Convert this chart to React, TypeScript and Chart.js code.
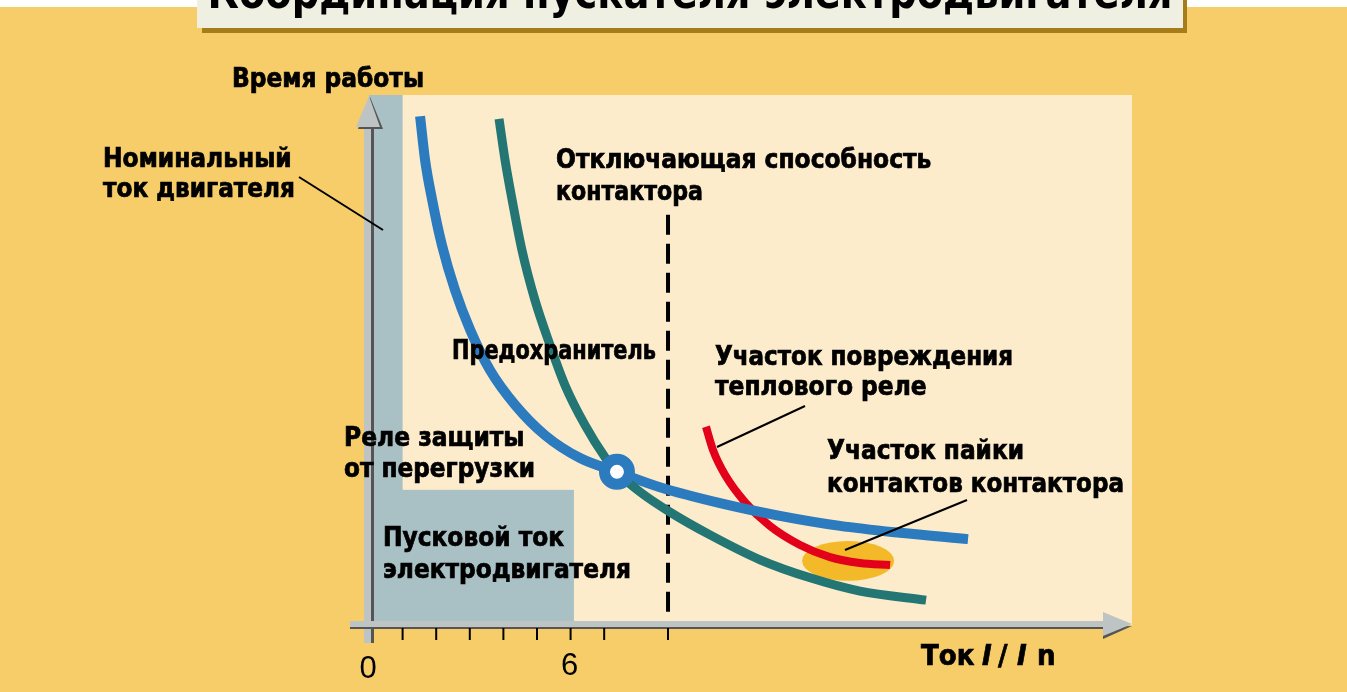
import React, { useEffect, useRef } from "react";
import { Chart, registerables } from "chart.js";

Chart.register(...registerables);

const W = 1347;
const H = 692;

// x: current as multiple of nominal current (I / In); y: operating time (relative units)
const xMax = 22.71;
const yMax = 100;
const tickValues = [1, 2, 3, 4, 5, 6, 7];
const tickLabelValues = [0, 6];
const tickLabelTexts = ["0", "6"];

const nominalCurrent = 1; // width of the nominal-current strip
const startingCurrent = 6.1;
const startingTime = 25.5;
const contactorBreakingCapacity = 8.9;
const breakingLineTop = 77.4;
const breakingLineBottom = 1.9;

const relayX = [1.52, 1.67, 1.88, 2.17, 2.56, 3.01, 3.6, 4.35, 5.24, 6.28, 7.38, 8.66, 10.45, 12.23, 14.02, 15.8, 17.83];
const relayY = [96.0, 87.7, 80.2, 71.7, 63.2, 55.7, 48.1, 41.5, 35.8, 31.5, 28.9, 26.0, 23.0, 20.6, 18.7, 17.4, 16.2];

const fuseX = [3.87, 4.05, 4.26, 4.55, 4.94, 5.39, 5.83, 6.43, 7.02, 7.38, 8.07, 8.96, 10.15, 11.64, 13.13, 14.61, 16.58];
const fuseY = [95.5, 87.7, 80.2, 70.8, 61.3, 52.8, 45.3, 37.7, 31.7, 28.9, 25.1, 21.3, 17.0, 12.3, 8.9, 6.4, 4.7];

const damageX = [10.03, 10.24, 10.6, 11.19, 11.93, 12.83, 13.72, 14.61, 15.51];
const damageY = [37.4, 33.0, 28.3, 23.2, 18.7, 15.1, 12.8, 11.7, 11.3];

const crossX = [7.38];
const crossY = [28.9];

const weldX = 14.26;
const weldY = 12.1;
const weldRx = 1.37;
const weldRy = 3.77;

const titleText = "Координация пускателя электродвигателя";

const C = {
  white: "#ffffff",
  orange: "#F7CD6A",
  cream: "#FDECCB",
  grayBlue: "#A9C1C5",
  blue: "#2C7BBF",
  teal: "#237674",
  red: "#E2001A",
  ellipse: "#F4B928",
  titleBox: "#EFF0E2",
  titleShadow: "#A57D1B",
  axis: "#BEC4C4",
  axisDark: "#555555",
};

const FONT = '"Liberation Sans Narrow", "Arial Narrow", "DejaVu Sans Condensed", "Roboto Condensed", sans-serif';
const LABEL = `bold 26px ${FONT}`;

const zip = (xs: number[], ys: number[]) => xs.map((x, i) => ({ x, y: ys[i] }));

const heavyText = (ctx: CanvasRenderingContext2D, t: string, x: number, y: number, maxW?: number) => {
  ctx.lineWidth = 0.7;
  ctx.strokeStyle = "#000";
  if (maxW) {
    ctx.fillText(t, x, y, maxW);
    ctx.strokeText(t, x, y, maxW);
  } else {
    ctx.fillText(t, x, y);
    ctx.strokeText(t, x, y);
  }
};

const decor = {
  id: "decor",
  beforeDatasetsDraw(chart: any) {
    const ctx: CanvasRenderingContext2D = chart.ctx;
    const xs = chart.scales.x;
    const ys = chart.scales.y;
    const a = chart.chartArea;
    const px = (v: number) => xs.getPixelForValue(v);
    const py = (v: number) => ys.getPixelForValue(v);
    ctx.save();
    // page background
    ctx.fillStyle = C.white;
    ctx.fillRect(0, 0, W, H);
    ctx.fillStyle = C.orange;
    ctx.fillRect(0, 7, W, H - 7);
    // title box
    ctx.fillStyle = C.titleShadow;
    ctx.fillRect(202, 0, 985, 33);
    ctx.fillStyle = C.titleBox;
    ctx.fillRect(197, 0, 986, 28);
    ctx.fillStyle = "#000";
    ctx.font = `bold 46px ${FONT}`;
    ctx.textAlign = "center";
    ctx.textBaseline = "alphabetic";
    ctx.fillText(titleText, 690, 8, 965);
    // plot background
    ctx.fillStyle = C.cream;
    ctx.fillRect(a.left, a.top, a.right - a.left, a.bottom - a.top);
    ctx.fillStyle = C.grayBlue;
    ctx.fillRect(px(0), a.top, px(nominalCurrent) - px(0), a.bottom - a.top);
    ctx.fillRect(px(0), py(startingTime), px(startingCurrent) - px(0), a.bottom - py(startingTime));
    // dashed breaking capacity line
    ctx.strokeStyle = "#000";
    ctx.lineWidth = 4;
    ctx.setLineDash([20, 9]);
    ctx.beginPath();
    ctx.moveTo(px(contactorBreakingCapacity), py(breakingLineTop));
    ctx.lineTo(px(contactorBreakingCapacity), py(breakingLineBottom));
    ctx.stroke();
    ctx.setLineDash([]);
    // welding zone ellipse
    ctx.fillStyle = C.ellipse;
    ctx.beginPath();
    ctx.ellipse(px(weldX), py(weldY), px(weldX + weldRx) - px(weldX), py(weldY) - py(weldY + weldRy), 0, 0, Math.PI * 2);
    ctx.fill();
    // axes
    const x0 = px(0);
    const y0 = py(0);
    // y axis shaft
    ctx.fillStyle = C.axisDark;
    ctx.fillRect(x0 + 2, 125, 3, 643 - 125);
    ctx.fillStyle = C.axis;
    ctx.fillRect(x0 - 5, 125, 7, 643 - 125);
    // y arrow
    ctx.fillStyle = C.axisDark;
    ctx.beginPath();
    ctx.moveTo(x0 + 1, a.top + 2);
    ctx.lineTo(x0 + 14, 129);
    ctx.lineTo(x0 - 11, 129);
    ctx.closePath();
    ctx.fill();
    ctx.fillStyle = C.axis;
    ctx.beginPath();
    ctx.moveTo(x0, a.top + 1);
    ctx.lineTo(x0 + 11, 127);
    ctx.lineTo(x0 - 13, 127);
    ctx.closePath();
    ctx.fill();
    // x axis shaft
    ctx.fillStyle = C.axisDark;
    ctx.fillRect(350, y0 + 1, 1105 - 350, 3);
    ctx.fillStyle = C.axis;
    ctx.fillRect(350, y0 - 4, 1105 - 350, 6);
    // x arrow
    ctx.fillStyle = C.axisDark;
    ctx.beginPath();
    ctx.moveTo(a.right, y0 + 1);
    ctx.lineTo(1103, y0 + 14);
    ctx.lineTo(1103, y0 + 2);
    ctx.closePath();
    ctx.fill();
    ctx.fillStyle = C.axis;
    ctx.beginPath();
    ctx.moveTo(a.right, y0 - 1);
    ctx.lineTo(1103, y0 - 13);
    ctx.lineTo(1103, y0 + 11);
    ctx.closePath();
    ctx.fill();
    // ticks
    ctx.strokeStyle = "#000";
    ctx.lineWidth = 2;
    [...tickValues, contactorBreakingCapacity].forEach((v) => {
      ctx.beginPath();
      ctx.moveTo(px(v), y0 + 3);
      ctx.lineTo(px(v), y0 + 15);
      ctx.stroke();
    });
    // tick labels
    ctx.fillStyle = "#000";
    ctx.font = `31px "Liberation Sans", Arial, sans-serif`;
    ctx.textAlign = "center";
    tickLabelValues.forEach((v, i) => {
      ctx.fillText(tickLabelTexts[i], px(v) - 1, 678 - i * 3);
    });
    ctx.restore();
  },
  afterDatasetsDraw(chart: any) {
    const ctx: CanvasRenderingContext2D = chart.ctx;
    ctx.save();
    // leader lines
    ctx.strokeStyle = "#000";
    ctx.lineWidth = 2;
    const lines = [
      [299, 177, 383, 230],
      [805, 406, 717, 447],
      [967, 500, 845, 550],
    ];
    lines.forEach(([x1, y1, x2, y2]) => {
      ctx.beginPath();
      ctx.moveTo(x1, y1);
      ctx.lineTo(x2, y2);
      ctx.stroke();
    });
    // labels
    ctx.fillStyle = "#000";
    ctx.font = LABEL;
    ctx.textAlign = "left";
    ctx.textBaseline = "alphabetic";
    const labels: [string, number, number, number][] = [
      ["Время работы", 232, 87, 192],
      ["Номинальный", 103, 167, 191],
      ["ток двигателя", 103, 197, 192],
      ["Отключающая способность", 556, 168, 395],
      ["контактора", 556, 200, 147],
      ["Предохранитель", 452, 359, 204],
      ["Участок повреждения", 715, 365, 298],
      ["теплового реле", 715, 395, 212],
      ["Реле защиты", 344, 446, 185],
      ["от перегрузки", 344, 477, 191],
      ["Участок пайки", 827, 459, 197],
      ["контактов контактора", 827, 492, 297],
      ["Пусковой ток", 383, 546, 181],
      ["электродвигателя", 383, 578, 248],
    ];
    labels.forEach(([t, x, y, w]) => heavyText(ctx, t, x, y, w));
    // x axis title
    ctx.font = `bold 29px ${FONT}`;
    heavyText(ctx, "Ток", 921, 665);
    ctx.font = `italic bold 29px ${FONT}`;
    heavyText(ctx, "I", 982, 665);
    ctx.font = `bold 29px ${FONT}`;
    heavyText(ctx, "/", 998, 665);
    ctx.font = `italic bold 29px ${FONT}`;
    heavyText(ctx, "I", 1017, 665);
    ctx.font = `bold 29px ${FONT}`;
    heavyText(ctx, "n", 1037, 665);
    ctx.restore();
  },
};

export default function App() {
  const ref = useRef<HTMLCanvasElement | null>(null);
  useEffect(() => {
    if (!ref.current) return;
    const chart = new Chart(ref.current, {
      type: "line",
      data: {
        datasets: [
          {
            label: "Точка пересечения",
            data: zip(crossX, crossY),
            showLine: false,
            pointRadius: 12.5,
            pointBorderWidth: 11,
            pointBorderColor: C.blue,
            pointBackgroundColor: "#ffffff",
            order: 0,
          },
          {
            label: "Предохранитель",
            data: zip(fuseX, fuseY),
            borderColor: C.teal,
            borderWidth: 9,
            pointRadius: 0,
            cubicInterpolationMode: "monotone",
            borderCapStyle: "butt",
            order: 1,
          },
          {
            label: "Реле защиты от перегрузки",
            data: zip(relayX, relayY),
            borderColor: C.blue,
            borderWidth: 10,
            pointRadius: 0,
            cubicInterpolationMode: "monotone",
            borderCapStyle: "butt",
            order: 2,
          },
          {
            label: "Участок повреждения теплового реле",
            data: zip(damageX, damageY),
            borderColor: C.red,
            borderWidth: 8,
            pointRadius: 0,
            cubicInterpolationMode: "monotone",
            borderCapStyle: "butt",
            order: 3,
          },
        ],
      },
      options: {
        responsive: false,
        animation: false,
        devicePixelRatio: 1,
        layout: { padding: { left: 369, right: W - 1132, top: 95, bottom: H - 625 } },
        scales: {
          x: { type: "linear", min: 0, max: xMax, display: false },
          y: { type: "linear", min: 0, max: yMax, display: false },
        },
        plugins: { legend: { display: false }, tooltip: { enabled: false }, title: { display: false } },
        events: [],
      },
      plugins: [decor],
    } as any);
    return () => chart.destroy();
  }, []);
  return (
    <div style={{ position: "absolute", left: 0, top: 0, width: W, height: H }}>
      <canvas ref={ref} width={W} height={H} style={{ display: "block", width: W, height: H }} />
    </div>
  );
}
